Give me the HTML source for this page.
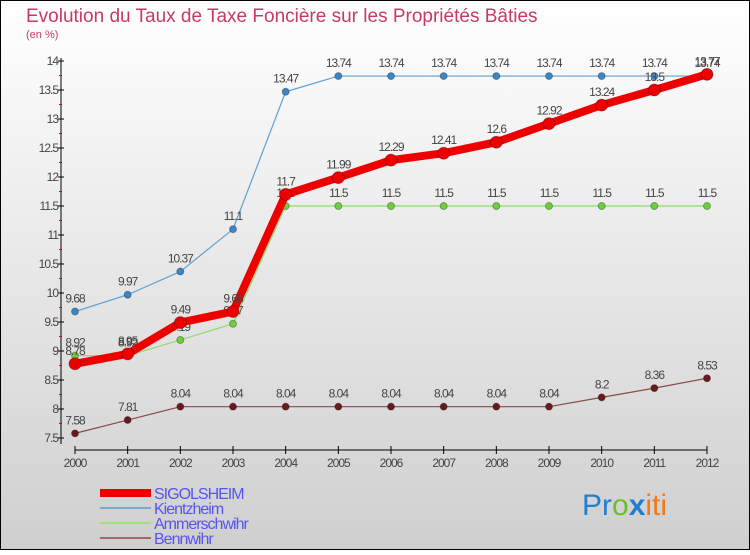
<!DOCTYPE html>
<html><head><meta charset="utf-8"><style>
body{margin:0}
#c{width:750px;height:550px;position:relative;font-family:"Liberation Sans",sans-serif}
</style></head><body>
<div id="c">
<svg id="s" width="750" height="550" xmlns="http://www.w3.org/2000/svg">
<defs><linearGradient id="bg" x1="0" y1="0" x2="0" y2="1"><stop offset="0" stop-color="#ffffff"/><stop offset="1" stop-color="#cfcfcf"/></linearGradient></defs>
<rect x="0.5" y="0.5" width="749" height="549" fill="url(#bg)" stroke="#000"/>
<text x="26" y="22" font-size="19" fill="#c8386a">Evolution du Taux de Taxe Foncière sur les Propriétés Bâties</text>
<text x="26" y="38" font-size="11" fill="#c8386a">(en %)</text>
<g id="axes"></g><g id="series"></g><g id="legend"></g>
<text x="582" y="515" font-size="30" font-family="'Liberation Sans',sans-serif"><tspan fill="#1f7fd0">Pr</tspan><tspan fill="#6bbf2c">o</tspan><tspan fill="#1f7fd0" font-weight="bold">x</tspan><tspan fill="#f07a1a">iti</tspan></text>
</svg></div>
<script>
const years=[2000,2001,2002,2003,2004,2005,2006,2007,2008,2009,2010,2011,2012];
const yTicks=[7.5,8,8.5,9,9.5,10,10.5,11,11.5,12,12.5,13,13.5,14];
const sigolsheim=[8.78,8.95,9.49,9.68,11.7,11.99,12.29,12.41,12.6,12.92,13.24,13.5,13.77];
const kientzheim=[9.68,9.97,10.37,11.1,13.47,13.74,13.74,13.74,13.74,13.74,13.74,13.74,13.74];
const ammerschwihr=[8.92,8.92,9.19,9.47,11.5,11.5,11.5,11.5,11.5,11.5,11.5,11.5,11.5];
const bennwihr=[7.58,7.81,8.04,8.04,8.04,8.04,8.04,8.04,8.04,8.04,8.2,8.36,8.53];
const NS="http://www.w3.org/2000/svg";
const X=i=>75+i*(707-75)/(years.length-1);
const Y=v=>438-(v-7.5)*(438-61)/6.5;
function mk(p,t,a){const e=document.createElementNS(NS,t);for(const k in a)e.setAttribute(k,a[k]);p.appendChild(e);return e;}
const ax=document.getElementById('axes');
let l=mk(ax,'line',{x1:61,y1:58,x2:61,y2:444,stroke:'#000'});


l=mk(ax,'line',{x1:75,y1:450,x2:707,y2:450,stroke:'#000'});


yTicks.forEach((v,i)=>{
 mk(ax,'line',{x1:58,y1:Y(v),x2:64,y2:Y(v),stroke:'#000'});
 if(i<yTicks.length-1)mk(ax,'line',{x1:59,y1:Y(v+0.25),x2:62,y2:Y(v+0.25),stroke:'#e00'});
 const t=mk(ax,'text',{x:58,y:Y(v)+4,'font-size':12,fill:'#444','text-anchor':'end','letter-spacing':'-1'});
 t.textContent=v;
 
 
});
years.forEach((y,i)=>{
 mk(ax,'line',{x1:X(i),y1:446,x2:X(i),y2:454,stroke:'#000'});
 const t=mk(ax,'text',{x:X(i),y:467,'font-size':12,fill:'#444','text-anchor':'middle','letter-spacing':'-1'});
 t.textContent=y;
 
 
});
const sg=document.getElementById('series');
function draw(vals,color,w,r,name,mcol){
 const g=mk(sg,'g',{});
 
 
 mk(g,'polyline',{points:vals.map((v,i)=>X(i)+','+Y(v)).join(' '),fill:'none',stroke:color,'stroke-width':w,'stroke-linejoin':'round'});
 vals.forEach((v,i)=>{
  const c=mk(g,'circle',{cx:X(i),cy:Y(v),r:r,fill:mcol,stroke:'rgba(0,0,0,0.3)'});
  
  
  const t=mk(g,'text',{x:X(i),y:Y(v)-9,'font-size':12,fill:'#444','text-anchor':'middle','letter-spacing':'-1'});
  t.textContent=v;
  
  
 });
}
draw(bennwihr,'#8b4a4a',1.2,3.5,'bennwihr','#6b1a1a');
draw(ammerschwihr,'#8fdc6a',1.2,3.5,'ammerschwihr','#6fcf3a');
draw(kientzheim,'#5fa0d0',1.2,3.5,'kientzheim','#3a86c8');
draw(sigolsheim,'#ee0000',8,6,'sigolsheim','#ee0000');
const lg=document.getElementById('legend');
const leg=[['SIGOLSHEIM','#ee0000',8],['Kientzheim','#7aaad0',2],['Ammerschwihr','#9fe07a',2],['Bennwihr','#a06a6a',2]];
leg.forEach((e,i)=>{
 const y=493+i*15;
 const g=mk(lg,'g',{});
 
 
 mk(g,'line',{x1:100,y1:y,x2:151,y2:y,stroke:e[1],'stroke-width':e[2]});
 const t=mk(g,'text',{x:154,y:y+6,'font-size':16,fill:'#5555ee','letter-spacing':'-1'});
 t.textContent=e[0];
});
</script>
</body></html>
